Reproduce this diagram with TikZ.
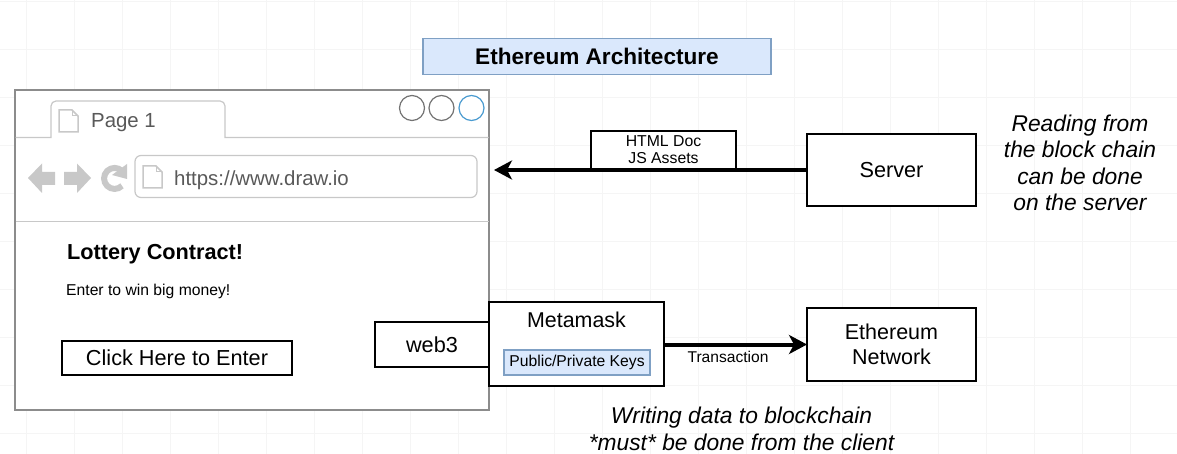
\documentclass[tikz,border=0pt]{standalone}
\usepackage{fontspec}
\setmainfont{Liberation Sans}
\usepackage{tikz}
\usetikzlibrary{arrows.meta}
\definecolor{titleblue}{HTML}{DAE8FC}
\definecolor{titleline}{HTML}{7FA0C4}
\definecolor{uigray}{HTML}{C8C8C8}
\definecolor{gridgray}{HTML}{F5F5F5}
\definecolor{maxblue}{HTML}{4A9BD0}
\tikzstyle{blackbox} = [draw=black,line width=2.7pt,fill=white,inner sep=0pt,outer sep=0pt,align=center]
\tikzstyle{bluebox} = [draw=titleline,line width=1.6pt,fill=titleblue,inner sep=0pt,outer sep=0pt,align=center]
\tikzstyle{arrow} = [line width=4pt,-{Stealth[length=18pt,width=19pt,inset=5pt]}]
\tikzstyle{winbutton} = [draw=black!55,line width=1.2pt,circle,minimum size=25pt,inner sep=0pt]
\tikzstyle{uitext} = [text=black!65,anchor=west,inner sep=0pt,font=\fontsize{20.4}{24}\selectfont]
\tikzstyle{notetext} = [align=center,inner sep=0pt,font=\fontsize{22.8}{26.5}\selectfont\itshape]
\tikzset{pageicon/.pic={
  \draw[uigray,line width=1.5pt,fill=white] (0,0) -- (13,0) -- (19,6) -- (19,22) -- (0,22) -- cycle;
  \draw[uigray,line width=1pt] (13,0) -- (13,6) -- (19,6);
}}
\begin{document}
\begin{tikzpicture}[x=1pt,y=-1pt]
\useasboundingbox (0,0) rectangle (1177,454);
\fill[white] (0,0) rectangle (1177,454);
% grid
\foreach \gx in {0,...,24} \draw[gridgray,line width=0.8pt] ({26.5+48*\gx},0) -- ({26.5+48*\gx},454);
\foreach \gy in {0,...,9} \draw[gridgray,line width=0.8pt] (0,{1+48*\gy}) -- (1177,{1+48*\gy});

\node[bluebox,minimum width=348pt,minimum height=36pt,font=\fontsize{22.6}{26}\selectfont\bfseries] (title) at (597,56.5) {Ethereum Architecture};

% browser window
\node[draw=black!45,line width=1.4pt,fill=white,minimum width=474pt,minimum height=320pt,inner sep=0pt,outer sep=0pt] (browser) at (252,250) {};
\draw[uigray,line width=1.2pt,fill=white] (15.5,137.5) -- (51,137.5) -- (51,106) arc[start angle=180,end angle=270,radius=5] -- (220,101) arc[start angle=270,end angle=360,radius=5] -- (225,137.5) -- (488.5,137.5);
\draw[uigray,line width=1.2pt] (15.5,221.5) -- (488.5,221.5);
\pic at (59,110) {pageicon};
\node[uitext] (pagelabel) at (91,123) {Page 1};
\node[winbutton] (btnclose) at (412,108) {};
\node[winbutton] (btnmin) at (441.5,108) {};
\node[winbutton,draw=maxblue] (btnmax) at (471.5,108) {};
\draw[uigray,line width=1.2pt,rounded corners=6pt] (135,155.5) rectangle (477,197.5);
\pic at (143,166) {pageicon};
\node[uitext] (urllabel) at (174,180.5) {https://www.draw.io};
% nav icons
\fill[uigray] (28,178) -- (42,163.5) -- (42,172) -- (55,172) -- (55,185) -- (42,185) -- (42,193) -- cycle;
\fill[uigray] (91,178) -- (77,163.5) -- (77,172) -- (64,172) -- (64,185) -- (77,185) -- (77,193) -- cycle;
\draw[uigray,line width=6pt] (122,171) arc[start angle=-45,end angle=-315,radius=10.5];
\fill[uigray] (127,164) -- (127,179) -- (112,175) -- cycle;

\node[anchor=west,inner sep=0pt,font=\fontsize{21.7}{26}\selectfont\bfseries] (heading) at (67,254) {Lottery Contract!};
\node[anchor=west,inner sep=0pt,font=\fontsize{15.7}{18}\selectfont] (subheading) at (66,291.5) {Enter to win big money!};
\node[blackbox,minimum width=230pt,minimum height=34pt,font=\fontsize{21.7}{25}\selectfont] (enter) at (177,358) {\raisebox{-1pt}{Click Here to Enter}};

\node[blackbox,minimum width=114pt,minimum height=45pt,font=\fontsize{21.7}{25}\selectfont] (web3) at (432,344.5) {\raisebox{-1pt}{web3}};
\node[blackbox,minimum width=175pt,minimum height=84pt] (metamask) at (576.5,344) {};
\node[inner sep=0pt,font=\fontsize{21.4}{25}\selectfont] (metamasklabel) at (576.5,320) {Metamask};
\node[bluebox,minimum width=146pt,minimum height=25pt,font=\fontsize{15.7}{18}\selectfont] (keys) at (577,362.5) {Public/Private Keys};
\node[blackbox,minimum width=169pt,minimum height=73pt,font=\fontsize{21.5}{24.5}\selectfont] (network) at (891.5,344.5) {Ethereum\\Network};
\node[blackbox,minimum width=169pt,minimum height=72pt,font=\fontsize{21.7}{25}\selectfont] (server) at (891.5,170) {\raisebox{-1pt}{Server}};
\coordinate (browseredge) at (494,170);

\node[blackbox,minimum width=145pt,minimum height=38pt,font=\fontsize{15.8}{17}\selectfont] (assets) at (663.5,150) {HTML Doc\\JS Assets};
\draw[arrow] (server.west) -- (browseredge);
\draw[arrow] (metamask.east |- network.west) -- (network.west);
\node[inner sep=0pt,font=\fontsize{15.6}{18}\selectfont] (txlabel) at (728,357) {Transaction};

\node[notetext] (readnote) at (1080,163) {Reading from\\the block chain\\can be done\\on the server};
\node[notetext] (writenote) at (741.5,429) {Writing data to blockchain\\*must* be done from the client};
\end{tikzpicture}
\end{document}
